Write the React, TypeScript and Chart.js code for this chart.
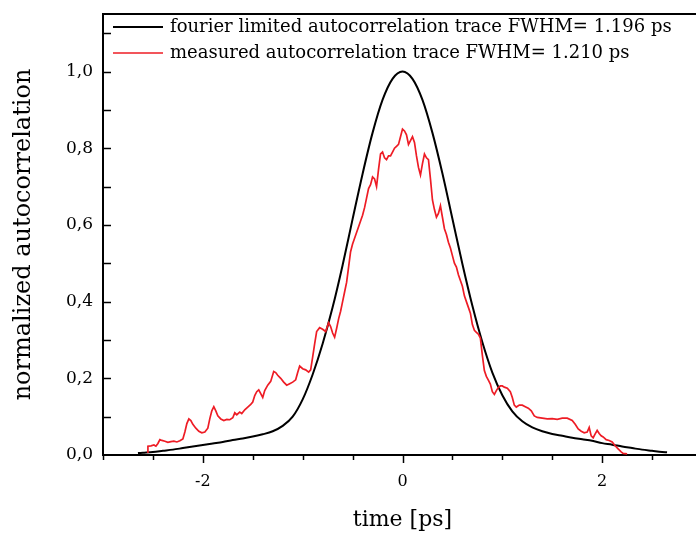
import React, { useEffect, useRef } from 'react';
import { Chart, registerables } from 'chart.js';

Chart.register(...registerables);

// ---- data ----
const fourierX = [
  -2.65, -2.6, -2.5, -2.4, -2.3, -2.2, -2.1, -2.0, -1.9, -1.8, -1.7, -1.6, -1.5, -1.4, -1.3, -1.2, -1.1, -1.0,
  -0.9, -0.8, -0.7, -0.6, -0.5, -0.4, -0.3, -0.2, -0.1, 0.0,
  0.1, 0.2, 0.3, 0.4, 0.5, 0.6, 0.7, 0.8, 0.9, 1.0, 1.1, 1.2, 1.3, 1.4, 1.5, 1.6, 1.7, 1.8, 1.9, 2.0,
  2.1, 2.2, 2.3, 2.4, 2.5, 2.6, 2.65,
];
const fourierY = [
  0.005, 0.006, 0.008, 0.011, 0.014, 0.018, 0.022, 0.026, 0.030, 0.034, 0.039, 0.043, 0.048, 0.054, 0.062, 0.076, 0.100, 0.145,
  0.210, 0.290, 0.385, 0.495, 0.615, 0.733, 0.840, 0.926, 0.981, 1.0,
  0.981, 0.926, 0.840, 0.734, 0.616, 0.498, 0.389, 0.294, 0.215, 0.156, 0.114, 0.088, 0.072, 0.062, 0.055, 0.050, 0.045, 0.041, 0.037, 0.031,
  0.027, 0.022, 0.018, 0.014, 0.011, 0.008, 0.007,
];

const measuredX = [
  -2.55, -2.55, -2.52, -2.49, -2.47, -2.45, -2.43, -2.41, -2.38, -2.35, -2.32, -2.29, -2.26, -2.23, -2.20, -2.18, -2.16, -2.14,
  -2.12, -2.10, -2.07, -2.04, -2.01, -1.98, -1.95, -1.93, -1.91, -1.89, -1.87, -1.85, -1.82, -1.79, -1.76, -1.73, -1.70, -1.68,
  -1.66, -1.63, -1.61, -1.58, -1.55, -1.52, -1.50, -1.48, -1.46, -1.44, -1.42, -1.40, -1.38, -1.35, -1.32, -1.29, -1.27, -1.25,
  -1.22, -1.19, -1.16, -1.13, -1.10, -1.07, -1.05, -1.03, -1.00, -0.97, -0.94, -0.92, -0.90, -0.88, -0.86, -0.83, -0.80, -0.77,
  -0.74, -0.72, -0.70, -0.68, -0.66, -0.64, -0.62, -0.60, -0.58, -0.56, -0.54, -0.52, -0.50, -0.48, -0.46, -0.44, -0.42, -0.40,
  -0.38, -0.36, -0.34, -0.32, -0.30, -0.28, -0.26, -0.24, -0.22, -0.20, -0.18, -0.16, -0.14, -0.12, -0.10, -0.08, -0.06, -0.04,
  -0.02, 0.00, 0.02, 0.04, 0.06, 0.08, 0.10, 0.12, 0.14, 0.16, 0.18, 0.20, 0.22, 0.24, 0.26, 0.28, 0.30, 0.32, 0.34, 0.36, 0.38,
  0.40, 0.42, 0.44, 0.46, 0.48, 0.50, 0.52, 0.54, 0.56, 0.58, 0.60, 0.62, 0.64, 0.66, 0.68, 0.70, 0.72, 0.74, 0.76, 0.78, 0.80,
  0.82, 0.84, 0.86, 0.88, 0.90, 0.92, 0.94, 0.96, 0.98, 1.00, 1.02, 1.05, 1.08, 1.10, 1.12, 1.14, 1.17, 1.20, 1.23, 1.26, 1.29,
  1.32, 1.35, 1.40, 1.45, 1.50, 1.55, 1.60, 1.65, 1.70, 1.73, 1.76, 1.79, 1.82, 1.85, 1.87, 1.89, 1.91, 1.93, 1.95, 1.97, 1.99,
  2.01, 2.04, 2.07, 2.10, 2.13, 2.16, 2.19, 2.21, 2.25,
];
const measuredY = [
  0.005, 0.023, 0.024, 0.026, 0.023, 0.030, 0.040, 0.038, 0.036, 0.033, 0.035, 0.036, 0.034, 0.037, 0.042, 0.060, 0.082, 0.094,
  0.090, 0.080, 0.070, 0.062, 0.058, 0.060, 0.070, 0.095, 0.115, 0.126, 0.115, 0.102, 0.094, 0.090, 0.093, 0.092, 0.097, 0.110,
  0.105, 0.112, 0.108, 0.118, 0.125, 0.132, 0.138, 0.155, 0.165, 0.170, 0.160, 0.150, 0.168, 0.182, 0.192, 0.218, 0.215, 0.208,
  0.200, 0.190, 0.182, 0.186, 0.190, 0.196, 0.215, 0.232, 0.225, 0.222, 0.216, 0.222, 0.255, 0.290, 0.322, 0.332, 0.328, 0.322,
  0.345, 0.335, 0.318, 0.307, 0.330, 0.355, 0.375, 0.400, 0.425, 0.450, 0.490, 0.530, 0.550, 0.565, 0.580, 0.595, 0.610, 0.625,
  0.645, 0.670, 0.695, 0.705, 0.725, 0.720, 0.700, 0.745, 0.785, 0.790, 0.775, 0.770, 0.780, 0.780, 0.790, 0.800, 0.805, 0.810,
  0.830, 0.850, 0.845, 0.835, 0.810, 0.820, 0.830, 0.815, 0.780, 0.750, 0.730, 0.760, 0.785, 0.775, 0.770, 0.720, 0.665, 0.640,
  0.620, 0.630, 0.650, 0.620, 0.590, 0.575, 0.555, 0.540, 0.520, 0.500, 0.490, 0.470, 0.455, 0.440, 0.415, 0.400, 0.385, 0.370,
  0.340, 0.325, 0.320, 0.315, 0.305, 0.260, 0.220, 0.205, 0.195, 0.185, 0.165, 0.158, 0.168, 0.176, 0.180, 0.180, 0.177, 0.174,
  0.165, 0.150, 0.130, 0.125, 0.130, 0.130, 0.126, 0.122, 0.115, 0.102, 0.098, 0.096, 0.094, 0.095, 0.093, 0.096, 0.096, 0.090,
  0.080, 0.068, 0.062, 0.058, 0.060, 0.072, 0.050, 0.045, 0.055, 0.064, 0.056, 0.050, 0.047, 0.040, 0.038, 0.034, 0.024, 0.016,
  0.008, 0.004, 0.003,
];

const seriesLabels = [
  'fourier limited autocorrelation trace FWHM= 1.196 ps',
  'measured autocorrelation trace FWHM= 1.210 ps',
];
const seriesColors = ['#000000', '#ee1c25'];
const xTitle = 'time [ps]';
const yTitle = 'normalized autocorrelation';
const xRange = [-3, 3];
const yRange = [0, 1.15];

const SERIF = '"DejaVu Serif", serif';

const framePlugin = {
  id: 'frameTicks',
  afterDraw(chart: any) {
    const { ctx, chartArea } = chart;
    const xs = chart.scales.x;
    const ys = chart.scales.y;
    ctx.save();
    ctx.strokeStyle = '#000';
    // top border
    ctx.lineWidth = 2;
    ctx.beginPath();
    ctx.moveTo(chartArea.left - 1, chartArea.top);
    ctx.lineTo(chartArea.right, chartArea.top);
    ctx.stroke();
    // x ticks (outside)
    ctx.lineWidth = 1.5;
    xs.ticks.forEach((t: any) => {
      const px = Math.round(xs.getPixelForValue(t.value)) + 0.5;
      const major = Math.abs(t.value % 2) < 1e-9;
      const len = major ? 8 : 5;
      ctx.beginPath();
      ctx.moveTo(px, chartArea.bottom);
      ctx.lineTo(px, chartArea.bottom + len);
      ctx.stroke();
    });
    // y ticks (inside)
    ys.ticks.forEach((t: any) => {
      if (t.value <= 0) return;
      const py = Math.round(ys.getPixelForValue(t.value)) + 0.5;
      ctx.beginPath();
      ctx.moveTo(chartArea.left, py);
      ctx.lineTo(chartArea.left + 8, py);
      ctx.stroke();
    });
    // legend
    ctx.font = `18px ${SERIF}`;
    ctx.textBaseline = 'middle';
    ctx.textAlign = 'left';
    chart.data.datasets.forEach((ds: any, i: number) => {
      const y = chartArea.top + 13 + i * 26;
      ctx.strokeStyle = ds.borderColor;
      ctx.lineWidth = ds.borderWidth;
      ctx.beginPath();
      ctx.moveTo(chartArea.left + 10, y);
      ctx.lineTo(chartArea.left + 60, y);
      ctx.stroke();
      ctx.fillStyle = '#000';
      ctx.fillText(ds.label, chartArea.left + 67, y);
    });
    ctx.restore();
  },
};

export default function App() {
  const canvasRef = useRef<HTMLCanvasElement | null>(null);

  useEffect(() => {
    if (!canvasRef.current) return;
    const chart = new Chart(canvasRef.current, {
      type: 'line',
      data: {
        datasets: [
          {
            label: seriesLabels[0],
            data: fourierX.map((x, i) => ({ x, y: fourierY[i] })),
            borderColor: seriesColors[0],
            borderWidth: 2,
            pointRadius: 0,
            cubicInterpolationMode: 'monotone',
            order: 1,
          },
          {
            label: seriesLabels[1],
            data: measuredX.map((x, i) => ({ x, y: measuredY[i] })),
            borderColor: seriesColors[1],
            borderWidth: 1.7,
            pointRadius: 0,
            tension: 0,
            order: 0,
          },
        ],
      },
      options: {
        animation: false,
        responsive: true,
        maintainAspectRatio: false,
        layout: { padding: { top: 14, left: 0, right: 0, bottom: 0 } },
        plugins: { legend: { display: false }, tooltip: { enabled: false } },
        scales: {
          x: {
            type: 'linear',
            min: xRange[0],
            max: xRange[1],
            grid: { display: false, drawTicks: false },
            border: { display: true, color: '#000', width: 2 },
            ticks: {
              stepSize: 0.5,
              autoSkip: false,
              includeBounds: false,
              maxRotation: 0,
              padding: 17,
              color: '#000',
              font: { family: SERIF, size: 16 },
              callback: (v: any) => {
                const n = Number(v);
                return Math.abs(n % 2) < 1e-9 ? String(Math.round(n)) : '';
              },
            },
            title: {
              display: true,
              text: xTitle,
              color: '#000',
              font: { family: SERIF, size: 22 },
              padding: { top: 0, bottom: 0 },
            },
            afterFit: (s: any) => {
              s.height = 78;
              s.paddingLeft = 0;
              s.paddingRight = 0;
            },
          },
          y: {
            type: 'linear',
            min: yRange[0],
            max: yRange[1],
            grid: { display: false, drawTicks: false },
            border: { display: true, color: '#000', width: 2 },
            ticks: {
              stepSize: 0.1,
              autoSkip: false,
              includeBounds: false,
              padding: 10,
              color: '#000',
              font: { family: SERIF, size: 17 },
              callback: (v: any) => {
                const n = Math.round(Number(v) * 10);
                return n % 2 === 0 ? (n / 10).toFixed(1).replace('.', ',') : '';
              },
            },
            title: {
              display: true,
              text: yTitle,
              color: '#000',
              font: { family: SERIF, size: 24 },
              padding: { top: 9, bottom: 0 },
            },
            afterFit: (s: any) => {
              s.width = 103;
              s.paddingTop = 0;
              s.paddingBottom = 0;
            },
          },
        },
      },
      plugins: [framePlugin],
    } as any);
    return () => chart.destroy();
  }, []);

  return (
    <div style={{ position: 'fixed', left: 0, top: 0, width: 696, height: 533, overflow: 'hidden', background: '#fff' }}>
      <div style={{ position: 'absolute', left: 0, top: 0, width: 702, height: 533 }}>
        <canvas ref={canvasRef} />
      </div>
    </div>
  );
}
